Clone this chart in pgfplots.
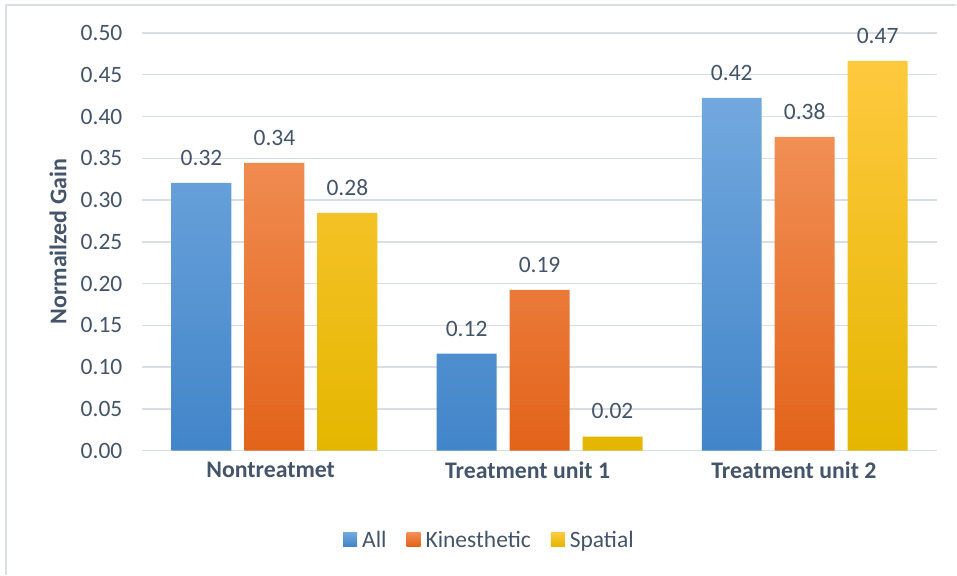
\documentclass[border=0pt]{standalone}
\usepackage{pgfplots}
\pgfplotsset{compat=1.18}
\usepackage{fontspec}
\setmainfont{Carlito}
\definecolor{txt}{HTML}{44546A}
\definecolor{gridc}{HTML}{D9DEE4}
\definecolor{bTop}{HTML}{72A8DE}
\definecolor{bBot}{HTML}{4285C9}
\definecolor{oTop}{HTML}{F18F55}
\definecolor{oBot}{HTML}{E3631A}
\definecolor{yTop}{HTML}{FFC93F}
\definecolor{yBot}{HTML}{E5B600}
\begin{document}
\begin{tikzpicture}
\path (0,0) rectangle (957pt,575pt);
\draw[gridc, line width=1.5pt] (6pt,0pt) -- (6pt,570pt) -- (957pt,570pt);
\begin{axis}[
  at={(142pt,124pt)}, anchor=south west,
  scale only axis, width=796pt, height=418pt,
  ybar, bar width=60pt,
  xmin=-0.5, xmax=2.5, ymin=0, ymax=0.5,
  ytick={0,0.05,...,0.5},
  xtick={-0.0143,0.9548,1.9593},
  xticklabels={Nontreatmet,Treatment unit 1,Treatment unit 2},
  /pgf/number format/assume math mode=true,
  yticklabel={\pgfmathprintnumber[fixed,fixed zerofill,precision=2]{\tick}},
  yticklabel style={font=\fontsize{23.5}{28}\selectfont, text=txt, anchor=east, xshift=-16pt},
  xticklabel style={font=\bfseries\fontsize{23.8}{28}\selectfont, text=txt, anchor=north, yshift=-8pt},
  major tick length=0pt,
  axis line style={draw=none},
  xmajorgrids=false,
  ymajorgrids, major grid style={draw=gridc, line width=1.5pt},
  ylabel={Normailzed Gain},
  every axis y label/.style={at={(axis description cs:-0.1055,0.5)}, rotate=90, anchor=center, font=\bfseries\fontsize{24}{28}\selectfont, text=txt},
  nodes near coords={\pgfmathprintnumber[fixed,fixed zerofill,precision=2]{\pgfplotspointmeta}},
  every node near coord/.append style={font=\fontsize{23.5}{28}\selectfont, text=txt, yshift=14pt},
  legend columns=3,
  legend style={at={(axis description cs:0.437,-0.213)}, anchor=center, draw=none, fill=none,
    font=\fontsize{23.5}{28}\selectfont, text=txt,
    /tikz/every odd column/.append style={column sep=3pt},
    /tikz/every even column/.append style={column sep=18pt}},
  legend image code/.code={\path[#1, draw=none] (0pt,-6.5pt) rectangle (14pt,7pt);},
]
\addplot[draw=none, top color=bTop, bottom color=bBot, bar shift=-73pt] coordinates {(0,0.3206) (1,0.1160) (2,0.4222)};
\addplot[draw=none, top color=oTop, bottom color=oBot, bar shift=0pt] coordinates {(0,0.3445) (1,0.1926) (2,0.3756)};
\addplot[draw=none, top color=yTop, bottom color=yBot, bar shift=73pt] coordinates {(0,0.2847) (1,0.0167) (2,0.4665)};
\legend{All,Kinesthetic,Spatial}
\end{axis}
\end{tikzpicture}
\end{document}
